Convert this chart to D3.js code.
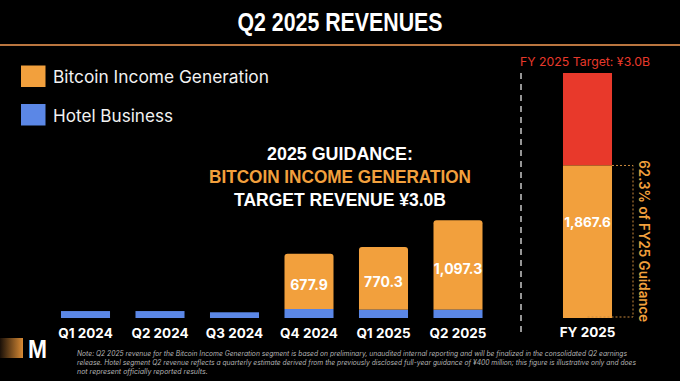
<!DOCTYPE html>
<html><head><meta charset="utf-8">
<script src="https://cdn.jsdelivr.net/npm/d3@7/dist/d3.min.js"></script>
<style>
html,body{margin:0;padding:0;background:#000;}
svg{display:block;}
</style></head>
<body>
<svg id="chart" width="680" height="381"></svg>
<script>
const categories = ["Q1 2024","Q2 2024","Q3 2024","Q4 2024","Q1 2025","Q2 2025"];
const bitcoinIncome = [0, 0, 0, 677.9, 770.3, 1097.3];
const hotelBusiness = [85, 85, 70, 110, 100, 100];
const valueLabels = ["", "", "", "677.9", "770.3", "1,097.3"];
const fyCategory = ["FY 2025"];
const fyActual = [1867.6];
const fyTarget = [3000];
const fyLabel = ["1,867.6"];
const legendLabels = ["Bitcoin Income Generation", "Hotel Business"];
const noteLines = [
 "Note: Q2 2025 revenue for the Bitcoin Income Generation segment is based on preliminary, unaudited internal reporting and will be finalized in the consolidated Q2 earnings",
 "release. Hotel segment Q2 revenue reflects a quarterly estimate derived from the previously disclosed full-year guidance of ¥400 million; this figure is illustrative only and does",
 "not represent officially reported results."
];

const ORANGE = "#f2a03d", BLUE = "#5b87e6", RED = "#e8392b";
const svg = d3.select("#chart");
svg.append("rect").attr("width",680).attr("height",381).attr("fill","#000");

// title
svg.append("text").attr("x",340).attr("y",31).attr("text-anchor","middle")
  .attr("font-family","Liberation Sans, Arial, sans-serif").attr("font-weight","bold")
  .attr("font-size",26).attr("fill","#fff")
  .attr("textLength",205).attr("lengthAdjust","spacingAndGlyphs")
  .text("Q2 2025 REVENUES");
svg.append("line").attr("x1",0).attr("x2",680).attr("y1",45).attr("y2",45)
  .attr("stroke","#b9753f").attr("stroke-width",2);

// legend
const legColors = [ORANGE, BLUE];
const legW = [216, 120];
legendLabels.forEach((l,i)=>{
  const y0 = 65.5 + i*38.5;
  svg.append("rect").attr("x",21).attr("y",y0).attr("width",24.5).attr("height",21.5).attr("fill",legColors[i]);
  svg.append("text").attr("x",53).attr("y",y0+17.5)
    .attr("font-family","Inter, 'Noto Sans', sans-serif").attr("font-size",17).attr("fill","#f2f2f2")
    .attr("textLength",legW[i]).attr("lengthAdjust","spacingAndGlyphs").text(l);
});

// guidance block
const g1 = [["2025 GUIDANCE:", "#fff", 159.5, 146],["BITCOIN INCOME GENERATION", ORANGE, 183, 262],["TARGET REVENUE ¥3.0B","#fff",205.5,212]];
g1.forEach(d=>{
  svg.append("text").attr("x",340).attr("y",d[2]).attr("text-anchor","middle")
   .attr("font-family","Liberation Sans, Arial, sans-serif").attr("font-weight","bold")
   .attr("font-size",17.5).attr("fill",d[1])
   .attr("textLength",d[3]).attr("lengthAdjust","spacingAndGlyphs").text(d[0]);
});

// scales
const y = d3.scaleLinear().domain([0,3000]).range([318,73]);
const x = d3.scaleBand().domain(categories).range([48.25, 495.25]).paddingInner(0.342).paddingOuter(0.171);
const xf = d3.scaleBand().domain(fyCategory).range([563-12.75, 612+12.75]).paddingInner(0.342).paddingOuter(0.171);

// quarterly bars
const gq = svg.append("g");
categories.forEach((c,i)=>{
  const bx = x(c), bw = x.bandwidth();
  const hTop = y(hotelBusiness[i]);
  if (bitcoinIncome[i] > 0) {
    const top = y(hotelBusiness[i] + bitcoinIncome[i]);
    const r = 3;
    gq.append("path").attr("fill",ORANGE)
      .attr("d",`M${bx},${hTop} L${bx},${top+r} Q${bx},${top} ${bx+r},${top} L${bx+bw-r},${top} Q${bx+bw},${top} ${bx+bw},${top+r} L${bx+bw},${hTop} Z`);
    const mid = (top + hTop)/2;
    gq.append("text").attr("x",bx+bw/2).attr("y",mid+8.5).attr("text-anchor","middle")
      .attr("font-family","Inter, 'Noto Sans', sans-serif").attr("font-weight","bold")
      .attr("font-size",14).attr("fill","#fff").text(valueLabels[i]);
  }
  gq.append("rect").attr("x",bx).attr("y",hTop).attr("width",bw).attr("height",y(0)-hTop).attr("fill",BLUE);
});

// axis labels
const xAxis = d3.axisBottom(x).tickSize(0).tickPadding(0);
const ax = svg.append("g").attr("transform","translate(0,326)").call(xAxis);
ax.select(".domain").remove();
ax.selectAll("text").attr("font-family","Inter, 'Noto Sans', sans-serif").attr("font-weight","bold")
  .attr("font-size",13.5).attr("fill","#fff").attr("dy","0.9em");
const axf = svg.append("g").attr("transform","translate(0,325)").call(d3.axisBottom(xf).tickSize(0).tickPadding(0));
axf.select(".domain").remove();
axf.selectAll("text").attr("font-family","Inter, 'Noto Sans', sans-serif").attr("font-weight","bold")
  .attr("font-size",13.5).attr("fill","#fff").attr("dy","0.9em");

// separator dashed line
svg.append("line").attr("x1",521).attr("x2",521).attr("y1",73).attr("y2",336)
  .attr("stroke","#c8c8c8").attr("stroke-width",1.5).attr("stroke-dasharray","6,5");

// FY bar
const fx = xf("FY 2025"), fw = xf.bandwidth();
svg.append("rect").attr("x",fx).attr("y",y(fyTarget[0])).attr("width",fw)
  .attr("height",y(fyActual[0])-y(fyTarget[0])).attr("fill",RED);
svg.append("rect").attr("x",fx).attr("y",y(fyActual[0])).attr("width",fw)
  .attr("height",y(0)-y(fyActual[0])).attr("fill",ORANGE);
svg.append("text").attr("x",fx+fw/2).attr("y",(y(fyActual[0])+y(0))/2-15).attr("text-anchor","middle")
  .attr("font-family","Inter, 'Noto Sans', sans-serif").attr("font-weight","bold")
  .attr("font-size",13.5).attr("fill","#fff").text(fyLabel[0]);
svg.append("text").attr("x",520).attr("y",66).attr("font-family","Inter, 'Noto Sans', sans-serif")
  .attr("font-size",12).attr("fill",RED).attr("textLength",130).attr("lengthAdjust","spacingAndGlyphs")
  .text("FY 2025 Target: ¥3.0B");

// bracket
const yA = y(fyActual[0]), y0 = y(0) - 1;
svg.append("path").attr("fill","none").attr("stroke","#c9893c").attr("stroke-width",1)
  .attr("stroke-dasharray","2,2")
  .attr("d",`M${fx+fw},${yA} L633,${yA} L633,${y0} L586,${y0}`);
svg.append("text").attr("transform",`translate(639,${(yA+y0)/2}) rotate(90)`)
  .attr("text-anchor","middle").attr("font-family","Inter, 'Noto Sans', sans-serif").attr("font-weight","600")
  .attr("font-size",14).attr("fill",ORANGE).attr("textLength",162).attr("lengthAdjust","spacingAndGlyphs")
  .text((fyActual[0]/fyTarget[0]*100).toFixed(1) + "% of FY25 Guidance");

// logo
const grad = svg.append("defs").append("linearGradient").attr("id","lg");
grad.append("stop").attr("offset","0%").attr("stop-color","#1a1008");
grad.append("stop").attr("offset","100%").attr("stop-color","#d88a34");
svg.append("rect").attr("x",0).attr("y",338).attr("width",23).attr("height",20).attr("fill","url(#lg)");
svg.append("text").attr("x",28).attr("y",357.5).attr("font-family","Liberation Sans, Arial, sans-serif")
  .attr("font-weight","bold").attr("font-size",26).attr("fill","#fff")
  .attr("textLength",19).attr("lengthAdjust","spacingAndGlyphs").text("M");

// note
const noteW = [550, 559, 0];
noteLines.forEach((t,i)=>{
  const tx = svg.append("text").attr("x",77).attr("y",355.5 + i*9.2)
   .attr("font-family","Inter, 'Noto Sans', sans-serif").attr("font-style","italic")
   .attr("font-size",7).attr("fill","#b5b5b5").text(t);
  if (noteW[i]) tx.attr("textLength",noteW[i]).attr("lengthAdjust","spacingAndGlyphs");
});
</script>
</body></html>
